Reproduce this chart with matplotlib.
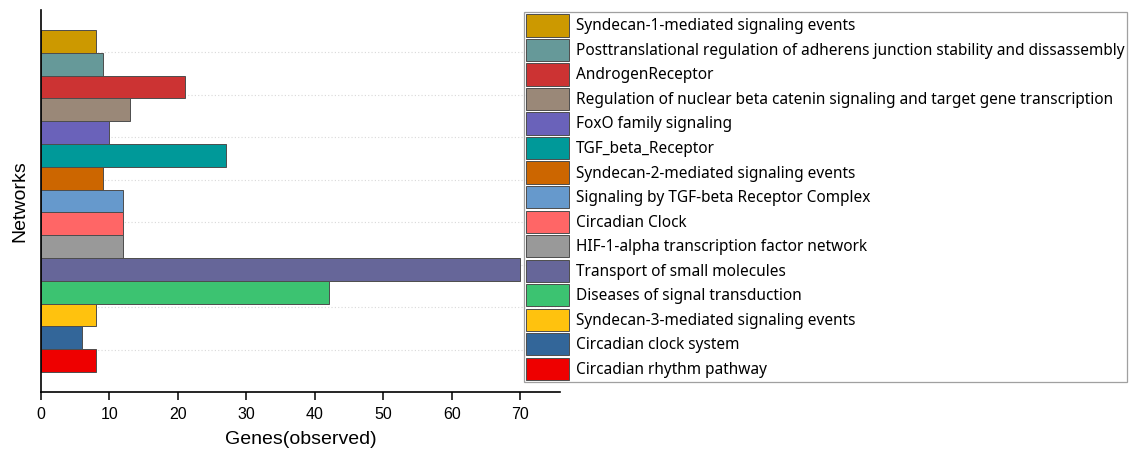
import matplotlib
matplotlib.use("Agg")
import matplotlib.pyplot as plt

# Network names (top to bottom) and number of observed genes in each
networks = [
    "Syndecan-1-mediated signaling events",
    "Posttranslational regulation of adherens junction stability and dissassembly",
    "AndrogenReceptor",
    "Regulation of nuclear beta catenin signaling and target gene transcription",
    "FoxO family signaling",
    "TGF_beta_Receptor",
    "Syndecan-2-mediated signaling events",
    "Signaling by TGF-beta Receptor Complex",
    "Circadian Clock",
    "HIF-1-alpha transcription factor network",
    "Transport of small molecules",
    "Diseases of signal transduction",
    "Syndecan-3-mediated signaling events",
    "Circadian clock system",
    "Circadian rhythm pathway",
]
genes_observed = [8, 9, 21, 13, 10, 27, 9, 12, 12, 12, 70, 42, 8, 6, 8]
bar_colors = [
    "#CC9900", "#669999", "#CC3333", "#9A8878", "#6A62BA",
    "#009999", "#CC6600", "#6699CC", "#FF6666", "#999999",
    "#666699", "#3CC371", "#FFC20E", "#336699", "#EE0000",
]
x_ticks = [0, 10, 20, 30, 40, 50, 60, 70]

W, H, DPI = 1131, 453, 100
fig = plt.figure(figsize=(W / DPI, H / DPI), dpi=DPI)
ax = fig.add_axes([41 / W, 1 - 392 / H, (560 - 41) / W, (392 - 10) / H])

# faint dotted guide lines splitting the plot height into nine bands
for k in range(1, 9):
    ax.plot([0, 1], [k / 9, k / 9], transform=ax.transAxes,
            color="#d9d9d9", linestyle=(0, (1, 2)), linewidth=0.8, zorder=0)

n = len(networks)
for i, (name, val, col) in enumerate(zip(networks, genes_observed, bar_colors)):
    ax.barh(n - 1 - i, val, height=1.0, color=col, edgecolor="#4d4d4d",
            linewidth=0.7, label=name, zorder=2)

ax.set_ylim(-1.377, n - 1 + 1.377)
ax.set_xlim(0, 75.8)
ax.set_xticks(x_ticks)
ax.set_yticks([])

for side in ("top", "right"):
    ax.spines[side].set_visible(False)
for side in ("left", "bottom"):
    ax.spines[side].set_linewidth(1.2)
    ax.spines[side].set_color("black")

ax.tick_params(axis="x", direction="out", length=6, width=1.1,
               labelsize=11.5, pad=5)
for lab in ax.get_xticklabels():
    lab.set_family("Liberation Sans")

ax.set_xlabel("Genes(observed)", fontsize=14, family="Liberation Sans", labelpad=6)
ax.set_ylabel("Networks", fontsize=14, family="Liberation Sans", labelpad=9)

leg = fig.legend(
    loc="upper left",
    bbox_to_anchor=(524 / W, 1 - 12 / H),
    bbox_transform=fig.transFigure,
    frameon=True, fancybox=False, shadow=False,
    prop={"family": "Noto Sans", "size": 11.1},
    handlelength=2.8, handleheight=1.84,
    labelspacing=0.15, handletextpad=0.4,
    borderpad=0.15, borderaxespad=0,
)
leg.get_frame().set_edgecolor("#888888")
leg.get_frame().set_linewidth(0.9)

fig.savefig("out.png", dpi=DPI)
